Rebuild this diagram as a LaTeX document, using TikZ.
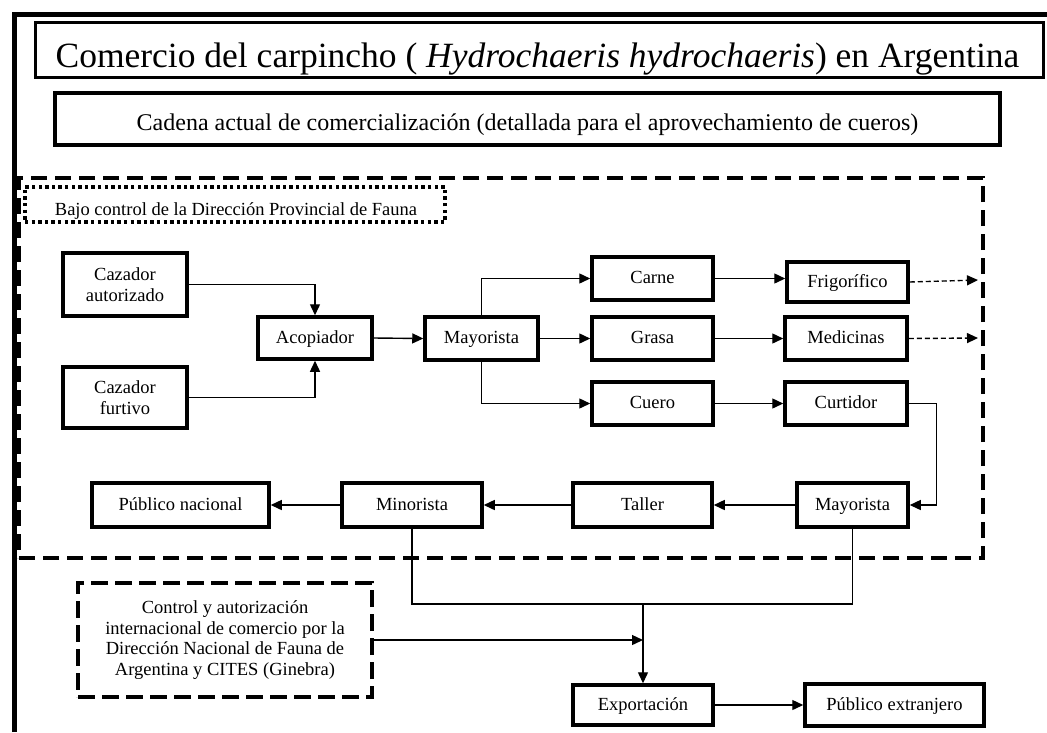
\documentclass[tikz,border=0pt]{standalone}
\usepackage{fontspec}
\setmainfont{Liberation Serif}
\usetikzlibrary{arrows.meta}
\begin{document}
\begin{tikzpicture}[x=1pt,y=-1pt,
  box/.style={draw,line width=3.5pt,inner sep=0pt,align=center,
    font=\fontsize{18.5}{21}\selectfont},
  one/.style={box,text height=12pt,text depth=2pt},
  conn/.style={line width=1.4pt},
  arr/.style={conn,-{Triangle[length=11pt,width=10pt]}},
  darr/.style={line width=1.4pt,dash pattern=on 5pt off 3pt,-{Triangle[length=11pt,width=10pt]}},
  region/.style={draw,line width=4pt,dash pattern=on 16pt off 8pt,inner sep=0pt},
  dotbox/.style={draw,line width=3.2pt,dash pattern=on 3.4pt off 3.2pt,inner sep=0pt},
  ctrlbox/.style={draw,line width=4pt,dash pattern=on 17pt off 7pt,inner sep=0pt},
  framebox/.style={draw,line width=3pt,inner sep=0pt},
  lbl/.style={inner sep=0pt,anchor=base,font=\fontsize{18.5}{21}\selectfont}
]
\useasboundingbox (0,0) rectangle (1047,732);
% outer frame (top and left)
\draw[line width=5pt] (14.5,732) -- (14.5,14.5) -- (1047,14.5);
% title
\node[framebox,minimum width=1008pt,minimum height=55pt] (title) at (539,49.5) {};
\node[inner sep=0pt,anchor=base,font=\fontsize{35.5}{40}\selectfont] (titletext) at (537.5,67)
  {Comercio del carpincho ( \textit{Hydrochaeris hydrochaeris}) en Argentina};
% subtitle
\node[framebox,line width=3.5pt,minimum width=945pt,minimum height=52pt] (sub) at (527.5,119) {};
\node[inner sep=0pt,anchor=base,font=\fontsize{24}{28}\selectfont] (subtext) at (527.5,130)
  {Cadena actual de comercialización (detallada para el aprovechamiento de cueros)};
% regions
\node[region,minimum width=964pt,minimum height=380pt] (prov) at (501,368) {};
\node[dotbox,minimum width=420pt,minimum height=35pt] (provlbl) at (235,204.5) {};
\node[lbl] (provtext) at (236,215) {Bajo control de la Dirección Provincial de Fauna};
% nodes
\node[box,minimum width=124pt,minimum height=63pt] (cazA) at (125,284.5) {Cazador\\autorizado};
\node[box,minimum width=124pt,minimum height=61pt] (cazF) at (125,397.5) {Cazador\\furtivo};
\node[one,minimum width=114pt,minimum height=42pt] (acop) at (315,338) {Acopiador};
\node[one,minimum width=113pt,minimum height=43pt] (may1) at (481.5,338.5) {Mayorista};
\node[one,minimum width=121pt,minimum height=43pt] (carne) at (652.5,278.5) {Carne};
\node[one,minimum width=121pt,minimum height=43pt] (grasa) at (652.5,338.5) {Grasa};
\node[one,minimum width=121pt,minimum height=43pt] (cuero) at (652.5,403.5) {Cuero};
\node[one,minimum width=121pt,minimum height=40pt] (frig) at (847.5,282) {Frigorífico};
\node[one,minimum width=122pt,minimum height=43pt] (med) at (846,338.5) {Medicinas};
\node[one,minimum width=122pt,minimum height=43pt] (curt) at (846,403.5) {Curtidor};
\node[one,minimum width=111pt,minimum height=44pt] (may2) at (852.5,505) {Mayorista};
\node[one,minimum width=139pt,minimum height=44pt] (taller) at (642.5,505) {Taller};
\node[one,minimum width=140pt,minimum height=44pt] (minor) at (412,505) {Minorista};
\node[one,minimum width=177pt,minimum height=44pt] (pubnac) at (180.5,505) {Público nacional};
\node[ctrlbox,minimum width=294pt,minimum height=114pt,align=center,
  font=\fontsize{18.5}{20.5}\selectfont] (ctrl) at (225,640)
  {Control y autorización\\internacional de comercio por la\\Dirección Nacional de Fauna de\\Argentina y CITES (Ginebra)};
\node[one,minimum width=140pt,minimum height=40pt] (export) at (643,705) {Exportación};
\node[one,minimum width=179pt,minimum height=42pt] (pubext) at (894.5,705) {Público extranjero};
% free ends
\coordinate (fe) at (978,280);
\coordinate (me) at (978,338);
\coordinate (j) at (643,604);
% connectors
\draw[arr] (cazA.east) -| (acop.north);
\draw[arr] (cazF.east) -| (acop.south);
\draw[arr] (acop.east) -- (may1.west);
\draw[arr] (may1.north) |- (carne.west);
\draw[arr] (may1.east) -- (grasa.west);
\draw[arr] (may1.south) |- (cuero.west);
\draw[arr] (carne.east) -- (carne.east -| frig.west);
\draw[arr] (grasa.east) -- (med.west);
\draw[arr] (cuero.east) -- (curt.west);
\draw[darr] (frig.east) -- (fe);
\draw[darr] (med.east) -- (me);
\draw[arr] (curt.east) -- ([xshift=28pt]curt.east) |- (may2.east);
\draw[arr] (may2.west) -- (taller.east);
\draw[arr] (taller.west) -- (minor.east);
\draw[arr] (minor.west) -- (pubnac.east);
\draw[conn] (minor.south) |- (j) -| (may2.south);
\draw[arr] (j) -- (export.north);
\draw[arr] (ctrl.east) -- (ctrl.east -| j);
\draw[arr] (export.east) -- (pubext.west);
\end{tikzpicture}
\end{document}
